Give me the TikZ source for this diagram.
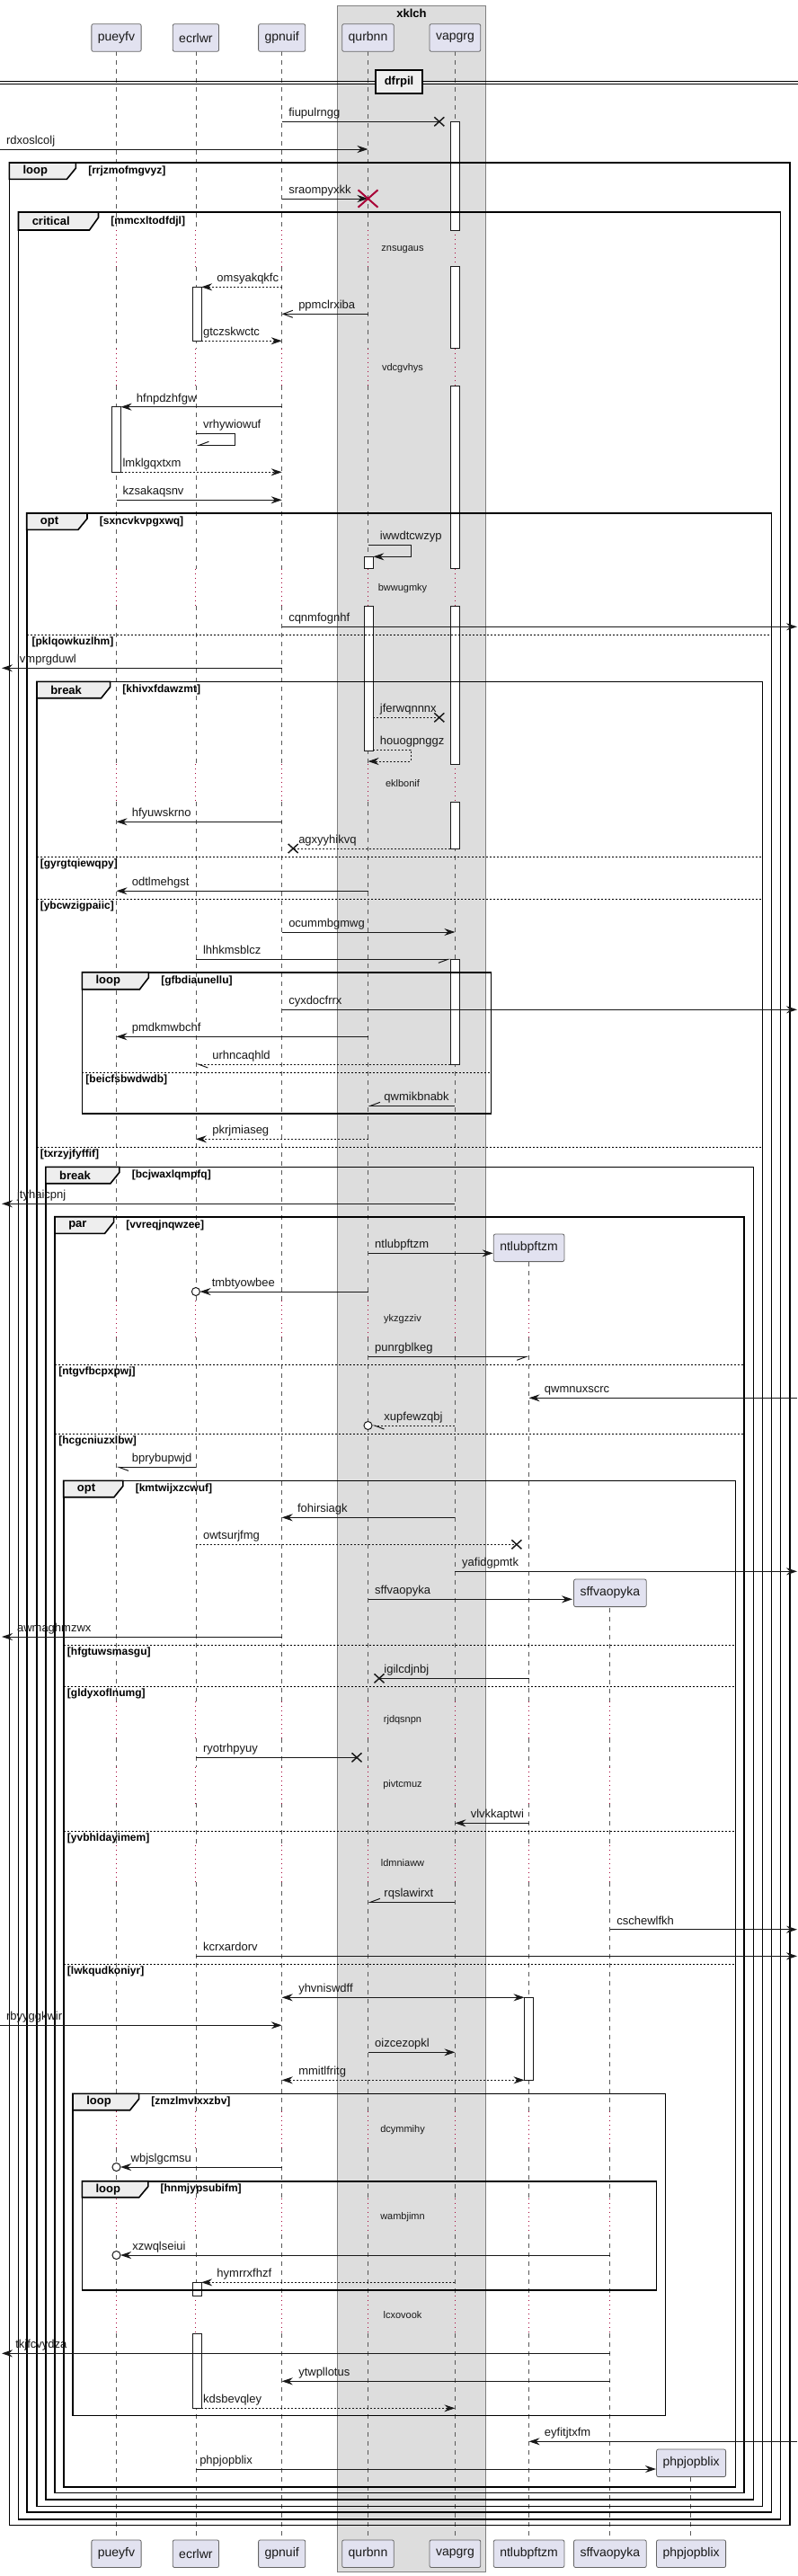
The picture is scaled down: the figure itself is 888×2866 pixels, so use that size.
\documentclass[tikz,border=0pt]{standalone}
\usepackage{fontspec}
\setmainfont{Liberation Sans}
\usetikzlibrary{arrows.meta}
\definecolor{partfill}{HTML}{E2E2F0}
\definecolor{tabfill}{HTML}{EEEEEE}
\definecolor{boxfill}{HTML}{DDDDDD}
\definecolor{zred}{HTML}{A80036}
\definecolor{ink}{HTML}{181818}
\tikzset{
  msgl/.style={font=\fontsize{9.75pt}{11pt}\selectfont, inner sep=0pt, anchor=base west, text=ink},
  dlyt/.style={font=\fontsize{8.25pt}{10pt}\selectfont, inner sep=0pt, anchor=base, text=ink},
  cond/.style={font=\bfseries\fontsize{9pt}{10pt}\selectfont, inner sep=0pt, anchor=west, text=black},
  tabtxt/.style={font=\bfseries\fontsize{9.75pt}{11pt}\selectfont, inner sep=0pt, anchor=west, text=black},
  partbox/.style={draw=black!60, fill=partfill, line width=0.6pt, rounded corners=1.5pt, font=\fontsize{10.5pt}{12pt}\selectfont, inner xsep=5.25pt, inner ysep=0pt, minimum height=22.95pt, text=ink},
  act/.style={draw=ink, fill=white, line width=0.6pt},
  frm/.style={draw=black, line width=1.2pt},
  tabshape/.style={draw=black, fill=tabfill, line width=1.2pt},
  elsel/.style={draw=black, line width=0.75pt, dash pattern=on 1.5pt off 1.5pt},
  lifeD/.style={draw=black!65, line width=0.6pt, dash pattern=on 3.75pt off 3.75pt},
  lifeZ/.style={draw=zred, line width=0.75pt, dash pattern=on 0.75pt off 3pt},
  mline/.style={draw=ink, line width=0.75pt},
  dsh/.style={dash pattern=on 1.5pt off 1.5pt},
  xmark/.style={draw=ink, line width=1.1pt},
  tipF/.style={-{Stealth[length=9pt,width=6pt,inset=3pt]}},
  tipFF/.style={{Stealth[length=9pt,width=6pt,inset=3pt]}-{Stealth[length=9pt,width=6pt,inset=3pt]}},
  tipO/.style={-{Straight Barb[length=8pt,width=6pt]}},
  tipHL/.style={-{Straight Barb[left,length=8pt,width=6pt]}},
  tipHR/.style={-{Straight Barb[right,length=8pt,width=6pt]}},
}
\newcommand\gframe[8]{%
  \draw[frm] (#1,#2) rectangle (#3,#4);
  \draw[tabshape] (#1,#2) -- (#5,#2) -- (#5,{#2+6}) -- ({#5-10},#6) -- (#1,#6) -- cycle;
  \node[tabtxt] (tab#8) at ({#1+15},{(#2+#6)/2}) {#7};
  \node[cond] (cond#8) at ({#5+13.6},{(#2+#6)/2}) {[#8]};
}
\newcommand\elsesep[5]{%
  \draw[elsel] (#1,#3) -- (#2,#3);
  \node[cond] (else#5) at (#4,{#3+8.2}) {[#5]};
}
\newcommand\smsg[6]{%
  \draw[mline,#1] (#2,#4) -- (#3,#4);
  \node[msgl] (m#6) at (#5,{#4-5.5}) {#6};
}
\newcommand\lostx[2]{\draw[xmark] ({#1-5.5},{#2-5}) -- ({#1+5.5},{#2+5}) ({#1-5.5},{#2+5}) -- ({#1+5.5},{#2-5});}
\newcommand\circend[2]{\draw[mline,fill=white] (#1,#2) circle[radius=3.4pt];}
\newcommand\dlytxt[2]{\node[dlyt] (d#2) at (448,{#1+3}) {#2};}
\newcommand\actv[3]{\draw[act] ({#1-5.1},#2) rectangle ({#1+5.1},#3);}
\begin{document}
\begin{tikzpicture}[x=0.75pt,y=-0.75pt]
\useasboundingbox (0,0) rectangle (888,2866);
\fill[white] (0,0) rectangle (888,2866);
% box group
\draw[fill=boxfill, draw=black!50, line width=0.6pt] (375.8,6) rectangle (540.1,2861.7);
\node[font=\bfseries\fontsize{9.75pt}{11pt}\selectfont, inner sep=0pt] (xklch) at (458,14.7) {xklch};
% lifelines
\foreach \x in {129.5,217.9,313.7,409.5,506.4} {
  \foreach \a/\b in {57.3/256,296.7/387.7,429.3/632.7,674.3/850.3,892/1447,1487.5/1893,1933.5/1965.5,2006/2053,2093.5/2349,2389.5/2446,2486/2554.3,2596/2825.7}
    {\draw[lifeD] (\x,\a) -- (\x,\b);}
  \foreach \a/\b in {256/296.7,387.7/429.3,632.7/674.3,850.3/892,1447/1487.5,1893/1933.5,1965.5/2006,2053/2093.5,2349/2389.5,2446/2486,2554.3/2596}
    {\draw[lifeZ] (\x,\a) -- (\x,\b);}
}
\foreach \a/\b in {1404.3/1447,1487.5/1893,1933.5/1965.5,2006/2053,2093.5/2349,2389.5/2446,2486/2554.3,2596/2825.7}
  {\draw[lifeD] (588.6,\a) -- (588.6,\b);}
\foreach \a/\b in {1447/1487.5,1893/1933.5,1965.5/2006,2053/2093.5,2349/2389.5,2446/2486,2554.3/2596}
  {\draw[lifeZ] (588.6,\a) -- (588.6,\b);}
\foreach \a/\b in {1788.7/1893,1933.5/1965.5,2006/2053,2093.5/2349,2389.5/2446,2486/2554.3,2596/2825.7}
  {\draw[lifeD] (678.7,\a) -- (678.7,\b);}
\foreach \a/\b in {1893/1933.5,1965.5/2006,2053/2093.5,2349/2389.5,2446/2486,2554.3/2596}
  {\draw[lifeZ] (678.7,\a) -- (678.7,\b);}
\draw[lifeD] (768.8,2756) -- (768.8,2825.7);
% participants
\node[partbox] (pueyfvT) at (129.5,42) {pueyfv};
\node[partbox] (ecrlwrT) at (217.9,42) {ecrlwr};
\node[partbox] (gpnuifT) at (313.7,42) {gpnuif};
\node[partbox] (qurbnnT) at (409.5,42) {qurbnn};
\node[partbox] (vapgrgT) at (506.4,42) {vapgrg};
\node[partbox] (pueyfvB) at (129.5,2841.2) {pueyfv};
\node[partbox] (ecrlwrB) at (217.9,2841.2) {ecrlwr};
\node[partbox] (gpnuifB) at (313.7,2841.2) {gpnuif};
\node[partbox] (qurbnnB) at (409.5,2841.2) {qurbnn};
\node[partbox] (vapgrgB) at (506.4,2841.2) {vapgrg};
\node[partbox] (ntlubpftzmB) at (588.6,2841.2) {ntlubpftzm};
\node[partbox] (sffvaopykaB) at (678.9,2841.2) {sffvaopyka};
\node[partbox] (phpjopblixB) at (769.1,2841.2) {phpjopblix};
\node[partbox] (ntlubpftzmC) at (588.6,1388.3) {ntlubpftzm};
\node[partbox] (sffvaopykaC) at (678.9,1772.3) {sffvaopyka};
\node[partbox] (phpjopblixC) at (769.1,2740.3) {phpjopblix};
% separator
\draw[draw=black, line width=0.75pt] (0,90.7) -- (888,90.7) (0,93.3) -- (888,93.3);
\node[draw=black, line width=1.5pt, fill=tabfill, minimum width=39pt, minimum height=19.5pt, inner sep=0pt, font=\bfseries\fontsize{9.75pt}{11pt}\selectfont] (dfrpil) at (444,91) {dfrpil};
% activations
\actv{506.4}{135.3}{256}
\actv{506.4}{296.7}{387.7}
\actv{506.4}{429.3}{632.7}
\actv{506.4}{674.3}{850.3}
\actv{506.4}{892}{944}
\actv{506.4}{1067.3}{1184}
\actv{219}{319.3}{379.3}
\actv{219}{2539.3}{2554.3}
\actv{219}{2596}{2679.3}
\actv{129.5}{452.7}{525.3}
\actv{410.3}{619.3}{632.7}
\actv{410.3}{674.3}{835.3}
\actv{588.6}{2222.3}{2314.3}
% frames
\gframe{10.3}{181}{878.9}{2809.3}{84.4}{199.3}{loop}{rrjzmofmgvyz}
\gframe{20.5}{236}{868.6}{2802.7}{109.5}{256}{critical}{mmcxltodfdjl}
\gframe{29.7}{571}{858.3}{2795}{97}{589.3}{opt}{sxncvkvpgxwq}
\gframe{41}{758.3}{848.6}{2788.3}{122.6}{776.7}{break}{khivxfdawzmt}
\gframe{91.3}{1081.7}{546.4}{1238.7}{165.4}{1100.7}{loop}{gfbdiaunellu}
\gframe{50.8}{1298.3}{838.4}{2781}{132.9}{1316.7}{break}{bcjwaxlqmpfq}
\gframe{61}{1353.7}{828.1}{2773.3}{126.6}{1372.3}{par}{vvreqjnqwzee}
\gframe{70.7}{1647.3}{818.4}{2766.7}{136.9}{1665.7}{opt}{kmtwijxzcwuf}
\gframe{81}{2329.3}{740.3}{2687.3}{154.6}{2347.7}{loop}{zmzlmvlxxzbv}
\gframe{91.3}{2426.7}{730.6}{2547.7}{164.8}{2444.7}{loop}{hnmjypsubifm}
% else separators
\elsesep{29.7}{858.3}{706.3}{35.4}{pklqowkuzlhm}
\elsesep{41}{848.6}{953.3}{44.5}{gyrgtqiewqpy}
\elsesep{41}{848.6}{1000.3}{44.5}{ybcwzigpaiic}
\elsesep{91.3}{546.4}{1193.3}{95.2}{beicfsbwdwdb}
\elsesep{41}{848.6}{1276.3}{44.5}{txrzyjfyffif}
\elsesep{61}{828.1}{1518.3}{65}{ntgvfbcpxpwj}
\elsesep{61}{828.1}{1595.3}{65}{hcgcniuzxlbw}
\elsesep{70.7}{818.4}{1830}{74.7}{hfgtuwsmasgu}
\elsesep{70.7}{818.4}{1876.3}{74.7}{gldyxoflnumg}
\elsesep{70.7}{818.4}{2037.3}{74.7}{yvbhldayimem}
\elsesep{70.7}{818.4}{2185.3}{74.7}{lwkqudkoniyr}
% messages
\smsg{}{313.7}{488.8}{135.3}{321}{fiupulrngg}\lostx{488.8}{135.3}
\smsg{tipF}{0}{409.5}{166}{6.8}{rdxoslcolj}
\smsg{tipF}{313.7}{409.5}{221}{321}{sraompyxkk}
\draw[draw=zred, line width=1.5pt] (398.5,211.3) -- (420.5,230.7) (398.5,230.7) -- (420.5,211.3);
\dlytxt{276.7}{znsugaus}
\smsg{tipF,dsh}{313.7}{224.1}{319.3}{241.2}{omsyakqkfc}
\smsg{tipO}{409.5}{313.7}{349.3}{332}{ppmclrxiba}
\smsg{tipF,dsh}{224.1}{313.7}{379.3}{225.8}{gtczskwctc}
\dlytxt{409.3}{vdcgvhys}
\smsg{tipF}{313.7}{134.6}{452.7}{151.7}{hfnpdzhfgw}
\draw[mline,tipHR] (217.9,482.3) -- (261.2,482.3) -- (261.2,495.3) -- (219,495.3);
\node[msgl] (mvrhywiowuf) at (225.8,476.8) {vrhywiowuf};
\smsg{tipF,dsh}{134.6}{313.7}{525.3}{136.3}{lmklgqxtxm}
\smsg{tipF}{129.5}{313.7}{556.3}{136.3}{kzsakaqsnv}
\draw[mline,tipF] (409.5,606) -- (457.4,606) -- (457.4,619.3) -- (415.4,619.3);
\node[msgl] (miwwdtcwzyp) at (422.6,600.5) {iwwdtcwzyp};
\dlytxt{654}{bwwugmky}
\smsg{tipF}{313.7}{887}{697.3}{321}{cqnmfognhf}
\smsg{tipF}{313.7}{2}{743.3}{18.8}{lvmprgduwl}
\smsg{dsh}{415.4}{488.8}{798.3}{422.6}{jferwqnnnx}\lostx{488.8}{798.3}
\draw[mline,dsh,tipF] (415.4,834.3) -- (457.4,834.3) -- (457.4,847) -- (409.5,847);
\node[msgl] (mhouogpnggz) at (422.6,828.8) {houogpnggz};
\dlytxt{872.3}{eklbonif}
\smsg{tipF}{313.7}{129.5}{914.3}{146.6}{hfyuwskrno}
\smsg{dsh}{501.3}{326.2}{944}{332}{agxyyhikvq}\lostx{326.2}{944}
\smsg{tipF}{409.5}{129.5}{991.3}{146.6}{odtlmehgst}
\smsg{tipF}{313.7}{506.4}{1037}{321}{ocummbgmwg}
\smsg{tipHR}{217.9}{501.3}{1067.3}{225.8}{lhhkmsblcz}
\smsg{tipF}{313.7}{887}{1123.3}{321}{cyxdocfrrx}
\smsg{tipF}{409.5}{129.5}{1153.3}{146.6}{pmdkmwbchf}
\smsg{tipHL,dsh}{501.3}{217.9}{1184}{236.1}{urhncaqhld}
\smsg{tipHR}{506.4}{409.5}{1230.3}{427.2}{qwmikbnabk}
\smsg{tipF,dsh}{409.5}{217.9}{1267.3}{236.1}{pkrjmiaseg}
\smsg{tipF}{506.4}{2}{1339.3}{18.8}{jtyhaicpnj}
\smsg{tipF}{409.5}{548.6}{1394.3}{416.9}{ntlubpftzm}
\smsg{tipF}{409.5}{222.5}{1437}{235.5}{tmbtyowbee}\circend{217.9}{1437}
\dlytxt{1467.3}{ykzgzziv}
\smsg{tipHR}{409.5}{588.6}{1509.3}{416.9}{punrgblkeg}
\smsg{tipF}{887}{588.6}{1555.3}{605.7}{qwmnuxscrc}
\smsg{tipHL,dsh}{506.4}{414.1}{1586}{427.2}{xupfewzqbj}\circend{409.5}{1586}
\smsg{tipHL}{217.9}{129.5}{1632.3}{146.6}{bprybupwjd}
\smsg{tipF}{506.4}{313.7}{1688.3}{330.8}{fohirsiagk}
\smsg{dsh}{217.9}{574.9}{1718.3}{225.8}{owtsurjfmg}\lostx{574.9}{1718.3}
\smsg{tipF}{506.4}{887}{1748.3}{513.9}{yafidgpmtk}
\smsg{tipF}{409.5}{637}{1779.3}{416.9}{sffvaopyka}
\smsg{tipF}{313.7}{2}{1821}{18.8}{awmaghmzwx}
\smsg{}{588.6}{422}{1867.3}{427.2}{igilcdjnbj}\lostx{422}{1867.3}
\dlytxt{1913.3}{rjdqsnpn}
\smsg{}{217.9}{397}{1955.3}{225.8}{ryotrhpyuy}\lostx{397}{1955.3}
\dlytxt{1985.7}{pivtcmuz}
\smsg{tipF}{588.6}{506.4}{2028.3}{523.5}{vlvkkaptwi}
\dlytxt{2073.3}{ldmniaww}
\smsg{tipHR}{506.4}{409.5}{2116.3}{427.2}{rqslawirxt}
\smsg{tipF}{678.7}{887}{2146.7}{686.1}{cschewlfkh}
\smsg{tipF}{217.9}{887}{2176.3}{225.8}{kcrxardorv}
\smsg{tipFF}{313.7}{583.5}{2222.3}{332}{yhvniswdff}
\smsg{tipF}{0}{313.7}{2253.3}{6.8}{rbyyggkwir}
\smsg{tipF}{409.5}{506.4}{2283.3}{416.9}{oizcezopkl}
\smsg{tipFF,dsh}{583.5}{313.7}{2314.3}{332}{mmitlfritg}
\dlytxt{2369.3}{dcymmihy}
\smsg{tipF}{313.7}{134.1}{2411}{145.4}{wbjslgcmsu}\circend{129.5}{2411}
\dlytxt{2466}{wambjimn}
\smsg{tipF}{678.7}{134.1}{2509}{147.1}{xzwqlseiui}\circend{129.5}{2509}
\smsg{tipF,dsh}{506.4}{224.1}{2539.3}{241.2}{hymrrxfhzf}
\dlytxt{2576}{lcxovook}
\smsg{tipF}{678.7}{2}{2618.3}{17.1}{tkjfcvydza}
\smsg{tipF}{678.7}{313.7}{2649.3}{332}{ytwpllotus}
\smsg{tipF,dsh}{224.1}{506.4}{2679.3}{225.8}{kdsbevqley}
\smsg{tipF}{887}{588.6}{2716.3}{605.7}{eyfitjtxfm}
\smsg{tipF}{217.9}{730}{2747}{222}{phpjopblix}
\end{tikzpicture}
\end{document}
